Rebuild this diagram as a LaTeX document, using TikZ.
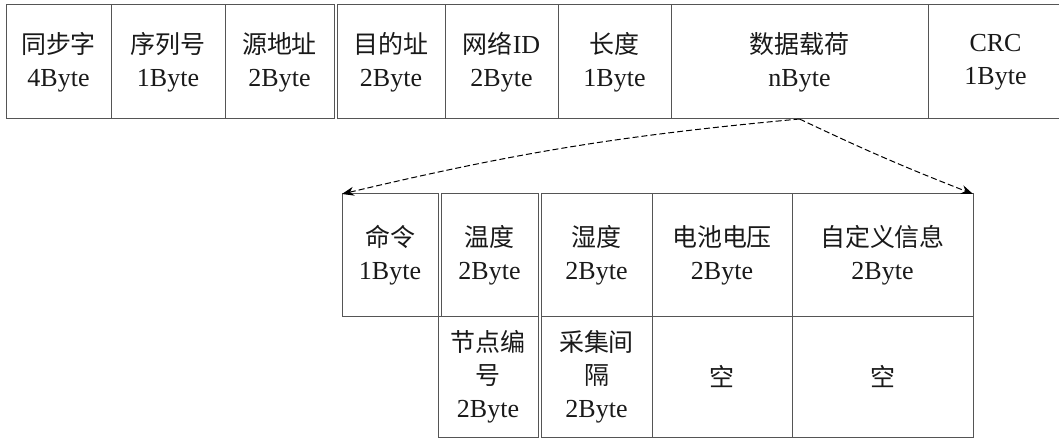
\documentclass[tikz,border=0pt]{standalone}
\usepackage{fontspec}
\setmainfont{Liberation Serif}
\newfontfamily\cjk[Scale=0.96]{Noto Sans CJK SC}
\usetikzlibrary{arrows.meta}
\definecolor{linecol}{HTML}{555555}
\begin{document}
\begin{tikzpicture}[x=1pt,y=-1pt,
  cell/.style={draw=linecol, line width=1pt, rectangle, inner sep=0pt, outer sep=0pt,
    anchor=north west, align=center, font=\fontsize{26}{33}\selectfont, text=black!90},
  link/.style={draw=black, line width=1pt, dash pattern=on 6pt off 3pt,
    -{Stealth[length=12pt,width=9pt]}}]
\useasboundingbox (0,0) rectangle (1059,438);
% top frame
\node[cell, minimum width=105, minimum height=114] (t1) at (6,5) {{\cjk 同步字}\\4Byte};
\node[cell, minimum width=114, minimum height=114] (t2) at (111,5) {{\cjk 序列号}\\1Byte};
\node[cell, minimum width=109, minimum height=114] (t3) at (225,5) {{\cjk 源地址}\\2Byte};
\node[cell, minimum width=108, minimum height=114] (t4) at (337,5) {{\cjk 目的址}\\2Byte};
\node[cell, minimum width=113, minimum height=114] (t5) at (445,5) {{\cjk 网络}ID\\2Byte};
\node[cell, minimum width=113, minimum height=114] (t6) at (558,5) {{\cjk 长度}\\1Byte};
\node[cell, minimum width=257, minimum height=114] (t7) at (671,5) {{\cjk 数据载荷}\\nByte};
\node[cell, minimum width=135, minimum height=114] (t8) at (928,5) {CRC\\1Byte};
% payload, first row
\node[cell, minimum width=96, minimum height=122] (b1) at (342,194) {{\cjk 命令}\\1Byte};
\node[cell, minimum width=97, minimum height=122] (b2) at (441,194) {{\cjk 温度}\\2Byte};
\node[cell, minimum width=111, minimum height=122] (b3) at (541,194) {{\cjk 湿度}\\2Byte};
\node[cell, minimum width=140, minimum height=122] (b4) at (652,194) {{\cjk 电池电压}\\2Byte};
\node[cell, minimum width=181, minimum height=122] (b5) at (792,194) {{\cjk 自定义信息}\\2Byte};
% payload, second row
\node[cell, minimum width=100, minimum height=121] (c1) at (438,316) {{\cjk 节点编}\\{\cjk 号}\\2Byte};
\node[cell, minimum width=111, minimum height=121] (c2) at (541,316) {{\cjk 采集间}\\{\cjk 隔}\\2Byte};
\node[cell, minimum width=140, minimum height=121] (c3) at (652,316) {{\cjk 空}};
\node[cell, minimum width=181, minimum height=121] (c4) at (792,316) {{\cjk 空}};
% connectors
\coordinate (apex) at (t7.south);
\draw[link] (apex) to[bend right=4] (b1.north west);
\draw[link] (apex) to[bend right=2] (b5.north east);
\end{tikzpicture}
\end{document}
